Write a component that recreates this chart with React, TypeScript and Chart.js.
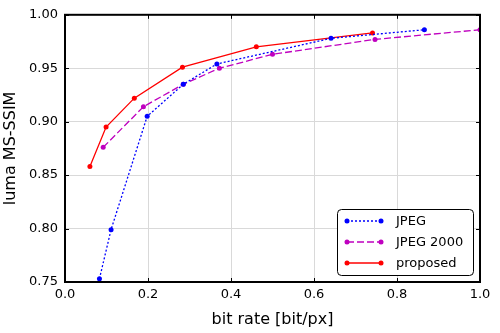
import React, { useEffect, useRef } from "react";
import { Chart, registerables } from "chart.js";

Chart.register(...registerables);

const jpegX = [0.083, 0.111, 0.198, 0.285, 0.366, 0.641, 0.866];
const jpegY = [0.753, 0.799, 0.905, 0.935, 0.954, 0.978, 0.986];
const j2kX = [0.092, 0.189, 0.285, 0.372, 0.5, 0.747, 1.0];
const j2kY = [0.876, 0.914, 0.935, 0.95, 0.963, 0.977, 0.986];
const propX = [0.06, 0.099, 0.167, 0.283, 0.461, 0.741];
const propY = [0.858, 0.895, 0.922, 0.951, 0.97, 0.983];

const xTicks = [0, 0.2, 0.4, 0.6, 0.8, 1.0];
const yTicks = [0.75, 0.8, 0.85, 0.9, 0.95, 1.0];

const FONT = "'DejaVu Sans', sans-serif";

const framePlugin = {
  id: "frameTicks",
  afterDatasetsDraw(chart: any) {
    const { ctx, chartArea: a, scales } = chart;
    ctx.save();
    ctx.strokeStyle = "#000";
    ctx.lineWidth = 1;
    const L = 4;
    scales.x.ticks.forEach((t: any) => {
      const px = Math.round(scales.x.getPixelForValue(t.value)) + 0.5;
      ctx.beginPath();
      ctx.moveTo(px, a.bottom);
      ctx.lineTo(px, a.bottom - L);
      ctx.moveTo(px, a.top);
      ctx.lineTo(px, a.top + L);
      ctx.stroke();
    });
    scales.y.ticks.forEach((t: any) => {
      const py = Math.round(scales.y.getPixelForValue(t.value)) + 0.5;
      ctx.beginPath();
      ctx.moveTo(a.left, py);
      ctx.lineTo(a.left + L, py);
      ctx.moveTo(a.right, py);
      ctx.lineTo(a.right - L, py);
      ctx.stroke();
    });
    ctx.lineWidth = 2;
    ctx.strokeRect(a.left, a.top, a.right - a.left, a.bottom - a.top);

    // legend
    const bx = 337.5, by = 209.5, bw = 136, bh = 66, r = 4;
    ctx.fillStyle = "#fff";
    ctx.strokeStyle = "#000";
    ctx.lineWidth = 1;
    ctx.beginPath();
    ctx.moveTo(bx + r, by);
    ctx.lineTo(bx + bw - r, by);
    ctx.arcTo(bx + bw, by, bx + bw, by + r, r);
    ctx.lineTo(bx + bw, by + bh - r);
    ctx.arcTo(bx + bw, by + bh, bx + bw - r, by + bh, r);
    ctx.lineTo(bx + r, by + bh);
    ctx.arcTo(bx, by + bh, bx, by + bh - r, r);
    ctx.lineTo(bx, by + r);
    ctx.arcTo(bx, by, bx + r, by, r);
    ctx.closePath();
    ctx.fill();
    ctx.stroke();
    const rows = [221, 242, 263];
    chart.data.datasets.forEach((ds: any, i: number) => {
      const y = rows[i];
      ctx.strokeStyle = ds.borderColor;
      ctx.lineWidth = ds.borderWidth;
      ctx.setLineDash(ds.borderDash || []);
      ctx.beginPath();
      ctx.moveTo(347, y);
      ctx.lineTo(381, y);
      ctx.stroke();
      ctx.setLineDash([]);
      ctx.fillStyle = ds.borderColor;
      [347, 381].forEach((x) => {
        ctx.beginPath();
        ctx.arc(x, y, 2.5, 0, Math.PI * 2);
        ctx.fill();
      });
      ctx.fillStyle = "#000";
      ctx.font = `13px ${FONT}`;
      ctx.textBaseline = "middle";
      ctx.textAlign = "left";
      ctx.fillText(ds.label, 396, y + 0.5);
    });
    ctx.restore();
  },
};

export default function App() {
  const ref = useRef<HTMLCanvasElement>(null);
  useEffect(() => {
    document.body.style.margin = "0";
    const mk = (xs: number[], ys: number[]) => xs.map((x, i) => ({ x, y: ys[i] }));
    const chart = new Chart(ref.current!, {
      type: "line",
      data: {
        datasets: [
          {
            label: "JPEG",
            data: mk(jpegX, jpegY),
            borderColor: "#0000ff",
            backgroundColor: "#0000ff",
            borderWidth: 1.3,
            borderDash: [2, 2],
            pointRadius: 2.5,
            pointBorderWidth: 0,
            tension: 0,
          },
          {
            label: "JPEG 2000",
            data: mk(j2kX, j2kY),
            borderColor: "#bf00bf",
            backgroundColor: "#bf00bf",
            borderWidth: 1.3,
            borderDash: [7, 3],
            pointRadius: 2.5,
            pointBorderWidth: 0,
            tension: 0,
          },
          {
            label: "proposed",
            data: mk(propX, propY),
            borderColor: "#ff0000",
            backgroundColor: "#ff0000",
            borderWidth: 1.3,
            pointRadius: 2.5,
            pointBorderWidth: 0,
            tension: 0,
          },
        ],
      },
      options: {
        animation: false,
        responsive: false,
        layout: { padding: { top: 11, right: 20, left: 0, bottom: 0 } },
        plugins: { legend: { display: false }, tooltip: { enabled: false } },
        scales: {
          x: {
            type: "linear",
            min: 0,
            max: 1,
            afterBuildTicks: (s: any) => {
              s.ticks = xTicks.map((v) => ({ value: v }));
            },
            afterFit: (s: any) => {
              s.height = 51;
            },
            ticks: {
              color: "#000",
              font: { family: FONT, size: 13 },
              padding: 5,
              maxRotation: 0,
              callback: (v: any) => Number(v).toFixed(1),
            },
            grid: { color: "#d9d9d9", drawTicks: false, lineWidth: 1 },
            border: { display: false },
            title: {
              display: true,
              text: "bit rate [bit/px]",
              color: "#000",
              font: { family: FONT, size: 16 },
              padding: { top: 0, bottom: 4 },
            },
          },
          y: {
            type: "linear",
            min: 0.75,
            max: 1.0,
            afterBuildTicks: (s: any) => {
              s.ticks = yTicks.map((v) => ({ value: v }));
            },
            afterFit: (s: any) => {
              s.width = 65;
            },
            ticks: {
              color: "#000",
              font: { family: FONT, size: 13 },
              padding: 7,
              callback: (v: any) => Number(v).toFixed(2),
            },
            grid: { color: "#d9d9d9", drawTicks: false, lineWidth: 1 },
            border: { display: false },
            title: {
              display: true,
              text: "luma MS-SSIM",
              color: "#000",
              font: { family: FONT, size: 16 },
              padding: { top: 1, bottom: 0 },
            },
          },
        },
      },
      plugins: [framePlugin],
    });
    return () => chart.destroy();
  }, []);
  return (
    <div style={{ width: 500, height: 333, background: "#fff" }}>
      <canvas ref={ref} width={500} height={333} style={{ display: "block" }} />
    </div>
  );
}
